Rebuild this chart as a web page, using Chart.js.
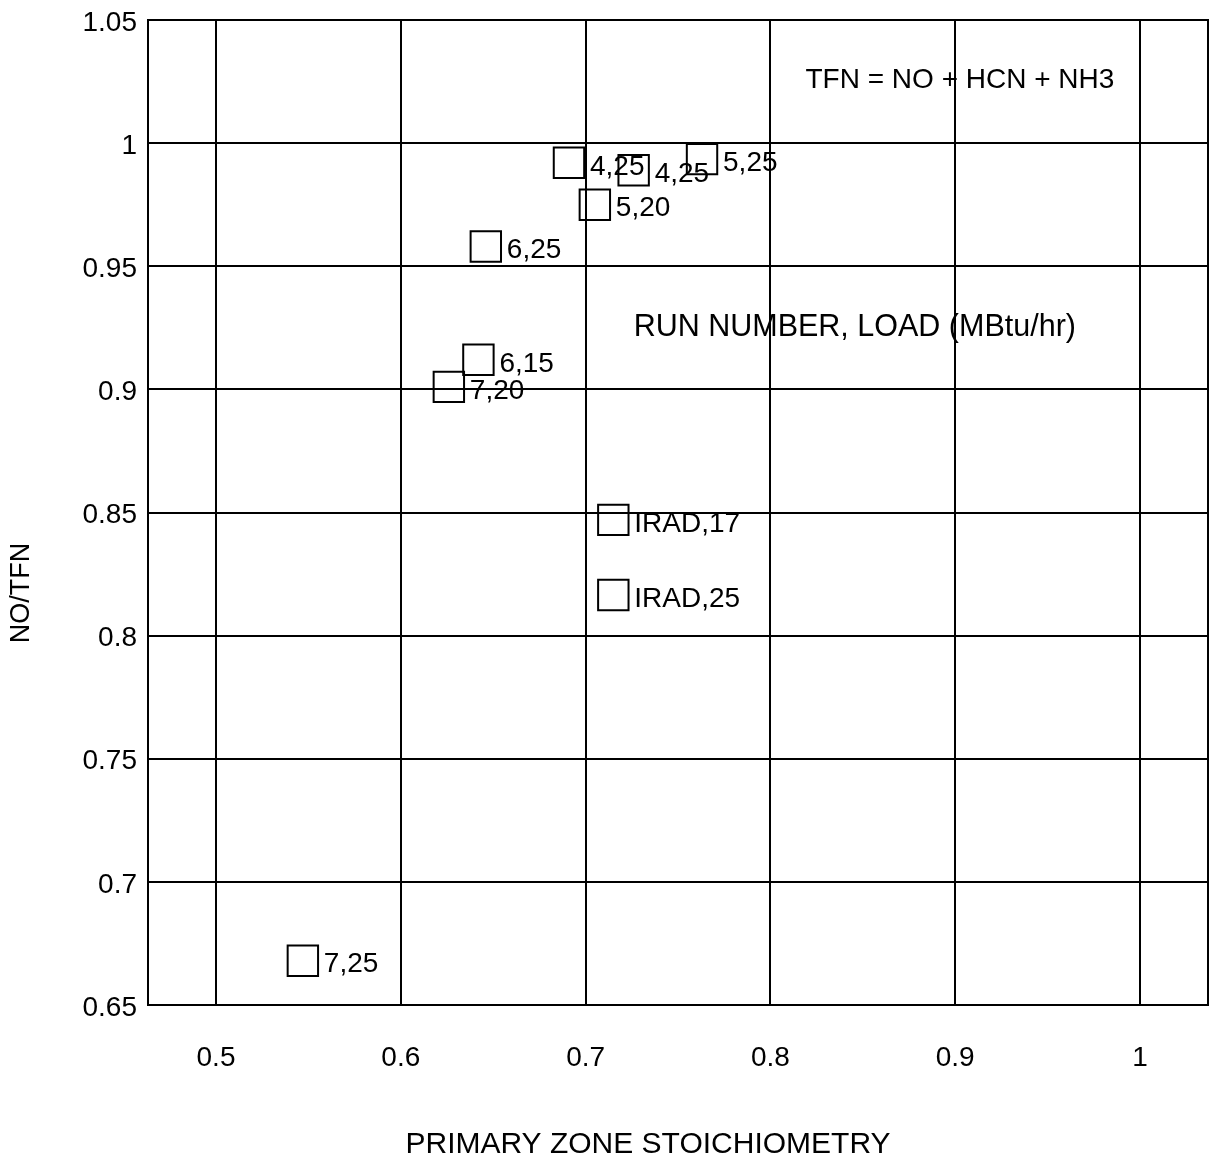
<!DOCTYPE html>
<html>
<head>
<meta charset="utf-8">
<script src="https://cdn.jsdelivr.net/npm/chart.js@4/dist/chart.umd.min.js"></script>
<style>
  html, body { margin: 0; padding: 0; background: #fff; }
  canvas { display: block; }
</style>
</head>
<body>
<canvas id="c" width="1212" height="1161"></canvas>
<script>
// ---- data ----
const pointLabels = ["4,25", "4,25", "5,25", "5,20", "6,25", "6,15", "7,20", "IRAD,17", "IRAD,25", "7,25"];
const stoichiometry = [0.691, 0.726, 0.763, 0.705, 0.646, 0.642, 0.626, 0.715, 0.715, 0.547];
const noOverTfn = [0.992, 0.989, 0.9935, 0.975, 0.958, 0.912, 0.901, 0.847, 0.8165, 0.668];
const xTickValues = [0.5, 0.6, 0.7, 0.8, 0.9, 1.0];
const xTickLabels = ["0.5", "0.6", "0.7", "0.8", "0.9", "1"];
const yTickValues = [0.65, 0.7, 0.75, 0.8, 0.85, 0.9, 0.95, 1.0, 1.05];
const yTickLabels = ["0.65", "0.7", "0.75", "0.8", "0.85", "0.9", "0.95", "1", "1.05"];
const xTitle = "PRIMARY ZONE STOICHIOMETRY";
const yTitle = "NO/TFN";
const notes = [
  { text: "TFN = NO + HCN + NH3", x: 0.819, y: 1.0255, size: 28 },
  { text: "RUN NUMBER, LOAD (MBtu/hr)", x: 0.726, y: 0.925, size: 30.5 }
];

const FONT = '"Liberation Sans", Arial, Helvetica, sans-serif';

const points = stoichiometry.map((x, i) => ({ x, y: noOverTfn[i] }));

const overlay = {
  id: 'overlay',
  afterDatasetsDraw(chart) {
    const ctx = chart.ctx;
    const xs = chart.scales.x, ys = chart.scales.y;
    const ca = chart.chartArea;
    ctx.save();
    // frame
    ctx.strokeStyle = '#000';
    ctx.lineWidth = 2;
    ctx.strokeRect(ca.left, ca.top, ca.right - ca.left, ca.bottom - ca.top);
    ctx.fillStyle = '#000';
    // point labels
    ctx.font = '28px ' + FONT;
    ctx.textAlign = 'left';
    ctx.textBaseline = 'middle';
    const meta = chart.getDatasetMeta(0);
    meta.data.forEach((el, i) => {
      ctx.fillText(pointLabels[i], el.x + 21, el.y + 4);
    });
    // notes
    notes.forEach(n => {
      ctx.font = n.size + 'px ' + FONT;
      ctx.fillText(n.text, xs.getPixelForValue(n.x), ys.getPixelForValue(n.y));
    });
    // axis titles
    ctx.font = '30px ' + FONT;
    ctx.textAlign = 'center';
    ctx.fillText(xTitle, 648, 1145);
    ctx.save();
    ctx.translate(22, 593);
    ctx.rotate(-Math.PI / 2);
    ctx.font = '27px ' + FONT;
    ctx.fillText(yTitle, 0, 0);
    ctx.restore();
    ctx.restore();
  }
};

new Chart(document.getElementById('c'), {
  type: 'scatter',
  data: {
    datasets: [{
      data: points,
      pointStyle: 'rect',
      pointRadius: 21.5,
      pointHoverRadius: 21.5,
      pointBackgroundColor: 'rgba(0,0,0,0)',
      pointBorderColor: '#000',
      pointBorderWidth: 2,
      showLine: false
    }]
  },
  options: {
    responsive: false,
    devicePixelRatio: 1,
    animation: false,
    events: [],
    layout: { autoPadding: false, padding: { left: 0, top: 20, right: 4, bottom: 0 } },
    plugins: { legend: { display: false }, tooltip: { enabled: false } },
    scales: {
      x: {
        type: 'linear',
        min: 0.4632,
        max: 1.0368,
        afterBuildTicks: s => { s.ticks = xTickValues.map(v => ({ value: v })); },
        afterFit: s => { s.height = 1161 - 1005; s.paddingLeft = 0; s.paddingRight = 0; },
        grid: { color: '#000', lineWidth: 2, drawTicks: false },
        border: { display: true, color: '#000', width: 2 },
        ticks: {
          color: '#000', font: { family: FONT, size: 28 }, padding: 36, maxRotation: 0,
          callback: (v, i) => xTickLabels[i]
        }
      },
      y: {
        type: 'linear',
        min: 0.65,
        max: 1.05,
        afterBuildTicks: s => { s.ticks = yTickValues.map(v => ({ value: v })); },
        afterFit: s => { s.width = 148; s.paddingTop = 0; s.paddingBottom = 0; },
        grid: { color: '#000', lineWidth: 2, drawTicks: false },
        border: { display: true, color: '#000', width: 2 },
        ticks: {
          color: '#000', font: { family: FONT, size: 28 }, padding: 11, labelOffset: 3,
          callback: (v, i) => yTickLabels[i]
        }
      }
    }
  },
  plugins: [overlay]
});
</script>
</body>
</html>
